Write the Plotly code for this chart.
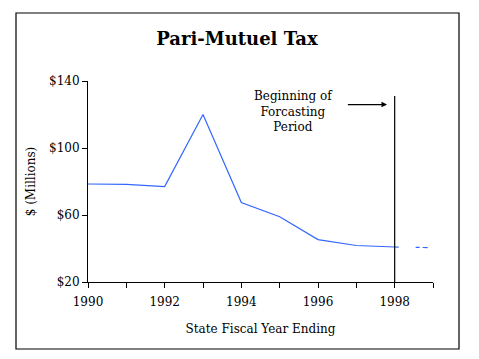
import plotly.graph_objects as go

years = [1990, 1991, 1992, 1993, 1994, 1995, 1996, 1997, 1998]
tax = [78.5, 78.3, 77.0, 120.0, 67.5, 59.0, 45.3, 41.8, 40.9]
forecast_years = [1998, 1999]
forecast_tax = [40.9, 40.5]
tick_years = list(range(1990, 2000))
tick_labels = ["1990", "", "1992", "", "1994", "", "1996", "", "1998", ""]
y_ticks = [20, 60, 100, 140]
y_labels = ["$20", "$60", "$100", "$140"]
forecast_start = 1998
forecast_line_top = 131

FONT = "DejaVu Serif"
BLUE = "#3366FF"

fig = go.Figure()
fig.add_trace(go.Scatter(x=years, y=tax, mode="lines",
                         line=dict(color=BLUE, width=1.2), showlegend=False))
fig.add_trace(go.Scatter(x=forecast_years, y=forecast_tax, mode="lines",
                         line=dict(color=BLUE, width=1.2, dash="4px,17px,4px,3px,5px,20px"),
                         showlegend=False))

fig.add_shape(type="line", xref="x", yref="y", x0=forecast_start, x1=forecast_start,
              y0=20, y1=forecast_line_top, line=dict(color="black", width=1.2))

fig.add_annotation(x=1995.35, y=121.5, xref="x", yref="y",
                   text="Beginning of<br>Forcasting<br>Period", showarrow=False,
                   font=dict(family=FONT, size=12, color="black"), align="center")
fig.add_annotation(x=1997.8, y=125.9, ax=1996.74, ay=125.9, xref="x", yref="y",
                   axref="x", ayref="y", text="", showarrow=True,
                   arrowhead=2, arrowsize=1, arrowwidth=1.1, arrowcolor="black")

# outer border
fig.add_shape(type="rect", xref="paper", yref="paper",
              x0=-72 / 345, x1=1 + 26 / 345, y0=-67 / 201, y1=1 + 68 / 201,
              line=dict(color="black", width=1.2))

fig.update_layout(
    width=471, height=351,
    margin=dict(l=80, r=46, t=73, b=77),
    paper_bgcolor="white", plot_bgcolor="white",
    title=dict(text="<b>Pari-Mutuel Tax</b>", x=229 / 471,
               xanchor="center", y=1 - 31 / 351, yanchor="middle",
               font=dict(family=FONT, size=18, color="black")),
    font=dict(family=FONT, size=12, color="black"),
)
fig.update_xaxes(range=[1990, 1999], tickvals=tick_years, ticktext=tick_labels,
                 showgrid=False, zeroline=False, showline=True, linecolor="black",
                 linewidth=1, ticks="outside", ticklen=5, tickcolor="black",
                 ticklabelstandoff=4,
                 tickfont=dict(family=FONT, size=12),
                 title=dict(text="State Fiscal Year Ending", standoff=16,
                            font=dict(family=FONT, size=12)))
fig.update_yaxes(range=[20, 140], tickvals=y_ticks, ticktext=y_labels,
                 showgrid=False, zeroline=False, showline=True, linecolor="black",
                 linewidth=1, ticks="outside", ticklen=5, tickcolor="black",
                 tickfont=dict(family=FONT, size=12),
                 title=dict(text="$ (Millions)", standoff=10,
                            font=dict(family=FONT, size=12)))

fig.write_html("out.html")
